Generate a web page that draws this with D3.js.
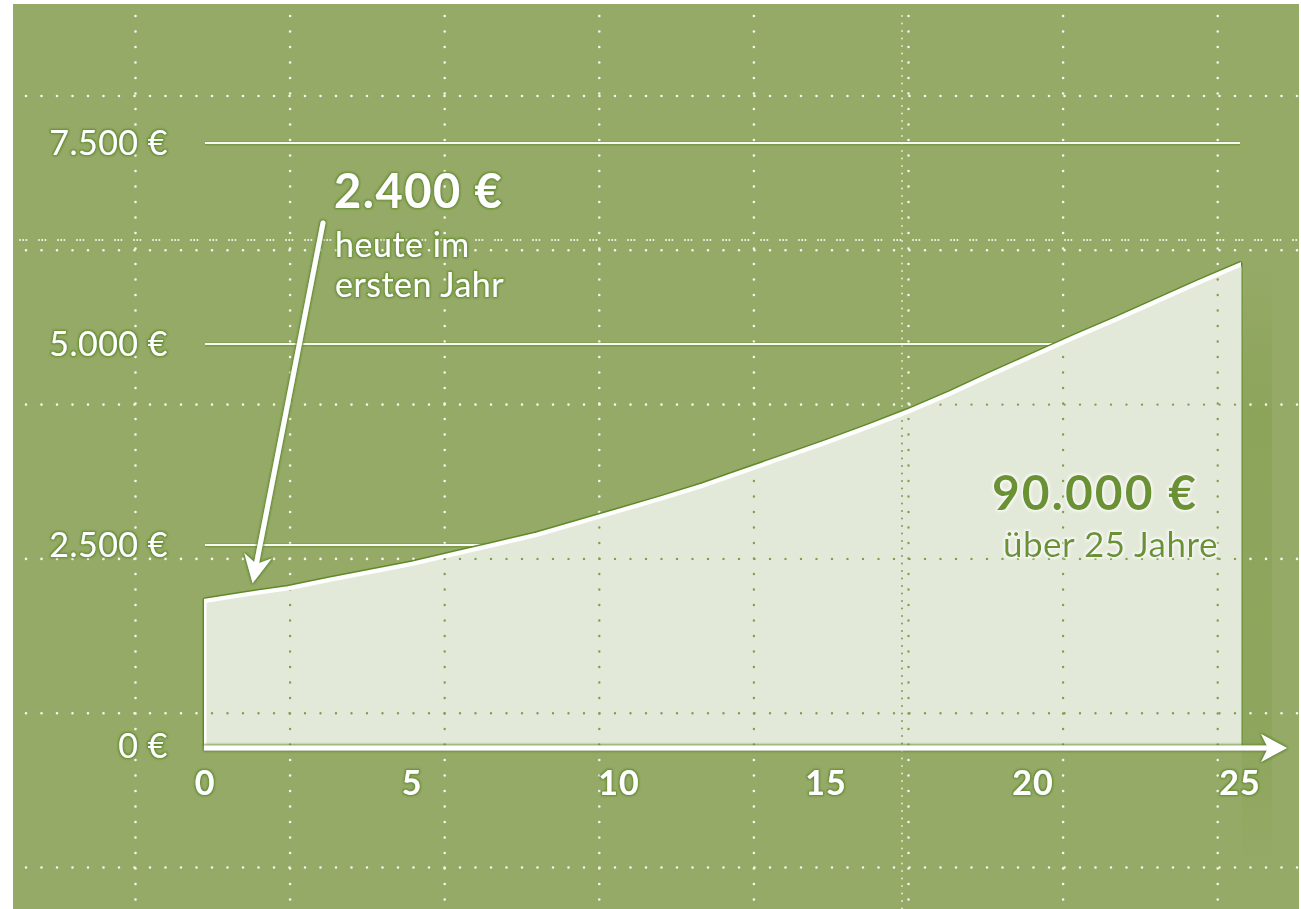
<!DOCTYPE html>
<html lang="de">
<head>
    <meta charset="UTF-8">
    <title>Einnahmen über 25 Jahre</title>
    <script src="https://cdn.jsdelivr.net/npm/d3@7"></script>
    <style>
        html, body {
            margin: 0;
            padding: 0;
            width: 100%;
            height: 100%;
            overflow: hidden;
            background: #fff;
        }
        text {
            font-family: Lato, "Open Sans", sans-serif;
        }
    </style>
</head>
<body>
</body>
<script>
    // Daten
    let years = d3.range(0, 26);
    let values = [1820, 1900, 1975, 2080, 2180, 2280, 2400, 2520, 2640, 2790, 2940,
        3090, 3250, 3430, 3610, 3790, 3980, 4180, 4400, 4640, 4870,
        5100, 5320, 5550, 5780, 6000];
    let yTicks = [0, 2500, 5000, 7500];
    let yTickLabels = ['0 €', '2.500 €', '5.000 €', '7.500 €'];
    let xTicks = [0, 5, 10, 15, 20, 25];

    let width = 1301;
    let height = 909;

    let bg = '#95aa67';
    let dark = '#5f8a28';
    let fillColor = '#e3e9d8';
    let labelGreen = '#6b9232';

    let x = d3.scaleLinear().domain([0, 25]).range([205, 1240]);
    let y = d3.scaleLinear().domain([0, 7500]).range([746, 143]);

    let svg = d3.select('body').append('svg')
        .attr('width', width)
        .attr('height', height);

    let defs = svg.append('defs');

    // Schein um Texte
    function glow(id, color, dev) {
        let f = defs.append('filter').attr('id', id)
            .attr('filterUnits', 'userSpaceOnUse')
            .attr('x', 0).attr('y', 0).attr('width', width).attr('height', height);
        f.append('feMorphology').attr('in', 'SourceAlpha').attr('operator', 'dilate').attr('radius', 1).attr('result', 'd');
        f.append('feGaussianBlur').attr('in', 'd').attr('stdDeviation', dev).attr('result', 'b');
        f.append('feFlood').attr('flood-color', color).attr('result', 'c');
        f.append('feComposite').attr('in', 'c').attr('in2', 'b').attr('operator', 'in').attr('result', 'g');
        let m = f.append('feMerge');
        m.append('feMergeNode').attr('in', 'g');
        m.append('feMergeNode').attr('in', 'SourceGraphic');
    }
    glow('glowDark', dark, 1.3);
    glow('glowLight', '#ffffff', 1.6);

    // Hintergrund
    svg.append('rect')
        .attr('x', 13).attr('y', 4)
        .attr('width', 1286).attr('height', height - 4)
        .attr('fill', bg);

    let stripGrad = defs.append('linearGradient').attr('id', 'strip')
        .attr('x1', 0).attr('x2', 0).attr('y1', 0).attr('y2', 1);
    stripGrad.append('stop').attr('offset', '0%').attr('stop-color', '#86a052').attr('stop-opacity', 0);
    stripGrad.append('stop').attr('offset', '25%').attr('stop-color', '#86a052').attr('stop-opacity', 0.6);
    stripGrad.append('stop').attr('offset', '75%').attr('stop-color', '#86a052').attr('stop-opacity', 0.5);
    stripGrad.append('stop').attr('offset', '100%').attr('stop-color', '#86a052').attr('stop-opacity', 0);
    svg.append('rect')
        .attr('x', 1242).attr('y', 260)
        .attr('width', 30).attr('height', 620)
        .attr('fill', 'url(#strip)');

    // gepunktetes Raster
    let grid = svg.append('g').attr('stroke', '#f4f7ec').attr('stroke-linecap', 'round');
    let gx = d3.range(8).map(i => 135.5 + i * 154.6);
    let gy = d3.range(6).map(i => 96 + i * 154.3);

    grid.selectAll('line.v').data(gx).enter().append('line')
        .attr('x1', d => d).attr('x2', d => d)
        .attr('y1', 16).attr('y2', height)
        .attr('stroke-width', 2.6)
        .attr('stroke-dasharray', '0,15.5');
    grid.append('line')
        .attr('x1', 902).attr('x2', 902).attr('y1', 16).attr('y2', height)
        .attr('stroke-width', 2).attr('stroke-dasharray', '0,7.5').attr('opacity', 0.8);

    grid.selectAll('line.h').data(gy).enter().append('line')
        .attr('x1', 26).attr('x2', 1299)
        .attr('y1', d => d).attr('y2', d => d)
        .attr('stroke-width', 2.6)
        .attr('stroke-dasharray', '0,15.5');
    grid.append('line')
        .attr('x1', 20).attr('x2', 1299).attr('y1', 240).attr('y2', 240)
        .attr('stroke-width', 2)
        .attr('stroke-dasharray', '0,3.2,0,3.2,0,12.6');

    // durchgezogene Hilfslinien
    let hl = svg.append('g');
    hl.selectAll('line.s').data(yTicks.slice(1)).enter().append('line')
        .attr('x1', x(0)).attr('x2', x(25))
        .attr('y1', d => y(d) + 0.5).attr('y2', d => y(d) + 0.5)
        .attr('stroke', dark)
        .attr('stroke-opacity', 0.5)
        .attr('stroke-width', 4);
    hl.selectAll('line.w').data(yTicks.slice(1)).enter().append('line')
        .attr('x1', x(0)).attr('x2', x(25))
        .attr('y1', d => y(d)).attr('y2', d => y(d))
        .attr('stroke', '#f7f9f1')
        .attr('stroke-width', 2);

    // Fläche
    let area = d3.area()
        .x((d, i) => x(years[i]))
        .y0(y(0))
        .y1(d => y(d));

    // Kanten: dunkler Schatten außen, weiße Kante innen
    let edge = [[x(0), y(0)], [x(0), y(values[0])]]
        .concat(values.map((v, i) => [x(years[i]), y(v)]))
        .concat([[x(25), y(0)]]);
    svg.append('path')
        .attr('d', d3.line()(edge))
        .attr('fill', 'none')
        .attr('stroke', dark)
        .attr('stroke-width', 5)
        .attr('stroke-linejoin', 'round');
    svg.append('path')
        .datum(values)
        .attr('d', area)
        .attr('fill', '#ffffff')
        .attr('stroke', '#ffffff')
        .attr('stroke-width', 2);
    svg.append('path')
        .datum(values)
        .attr('d', area)
        .attr('fill', fillColor)
        .attr('transform', 'translate(1.5,3)');

    // Raster auf der Fläche (grüne Punkte)
    let clip = defs.append('clipPath').attr('id', 'areaClip');
    clip.append('path').datum(values).attr('d', area).attr('transform', 'translate(1.5,3)');
    let gridIn = svg.append('g').attr('clip-path', 'url(#areaClip)')
        .attr('stroke', '#7f9f4e').attr('stroke-linecap', 'round');
    gridIn.selectAll('line.v').data(gx).enter().append('line')
        .attr('x1', d => d).attr('x2', d => d)
        .attr('y1', 16).attr('y2', height)
        .attr('stroke-width', 2.4)
        .attr('stroke-dasharray', '0,15.5');
    gridIn.append('line')
        .attr('x1', 902).attr('x2', 902).attr('y1', 16).attr('y2', height)
        .attr('stroke-width', 2).attr('stroke-dasharray', '0,7.5');
    gridIn.selectAll('line.h').data(gy).enter().append('line')
        .attr('x1', 26).attr('x2', 1299)
        .attr('y1', d => d).attr('y2', d => d)
        .attr('stroke-width', 2.4)
        .attr('stroke-dasharray', '0,15.5');

    // x-Achse mit Pfeil
    let axisG = svg.append('g').attr('filter', 'url(#glowDark)');
    axisG.append('line')
        .attr('x1', x(0) - 1).attr('x2', 1272)
        .attr('y1', 748).attr('y2', 748)
        .attr('stroke', '#ffffff')
        .attr('stroke-width', 5);
    axisG.append('path')
        .attr('d', 'M1287,748 L1261,734 L1268,748 L1261,762 Z')
        .attr('fill', '#ffffff');

    // Achsenbeschriftungen
    svg.append('g').selectAll('text').data(xTicks).enter().append('text')
        .attr('x', d => x(d))
        .attr('y', 795)
        .attr('text-anchor', 'middle')
        .attr('font-size', 34)
        .attr('font-weight', 700)
        .attr('letter-spacing', 1)
        .attr('fill', '#ffffff')
        .attr('filter', 'url(#glowDark)')
        .text(d => d);

    svg.append('g').selectAll('text').data(yTicks).enter().append('text')
        .attr('x', 168)
        .attr('y', d => y(d) + 12)
        .attr('text-anchor', 'end')
        .attr('font-size', 34)
        .attr('letter-spacing', 0.5)
        .attr('fill', '#ffffff')
        .attr('filter', 'url(#glowDark)')
        .text((d, i) => yTickLabels[i]);

    // Pfeil zum Startwert
    let arrowG = svg.append('g').attr('filter', 'url(#glowDark)');
    let ax0 = 323, ay0 = 223;
    let ax1 = x(1.15), ay1 = y(values[1]) - 10;
    let ang = Math.atan2(ay1 - ay0, ax1 - ax0);
    let hLen = 28, hW = 14;
    arrowG.append('line')
        .attr('x1', ax0).attr('y1', ay0)
        .attr('x2', ax1 - Math.cos(ang) * 14).attr('y2', ay1 - Math.sin(ang) * 14)
        .attr('stroke', '#ffffff')
        .attr('stroke-width', 5)
        .attr('stroke-linecap', 'round');
    let bx = ax1 - Math.cos(ang) * hLen, by = ay1 - Math.sin(ang) * hLen;
    let nx = -Math.sin(ang), ny = Math.cos(ang);
    let bm = [ax1 - Math.cos(ang) * hLen * 0.7, ay1 - Math.sin(ang) * hLen * 0.7];
    arrowG.append('path')
        .attr('d', `M${ax1},${ay1} L${bx + nx * hW},${by + ny * hW} L${bm[0]},${bm[1]} L${bx - nx * hW},${by - ny * hW} Z`)
        .attr('fill', '#ffffff');

    // Anmerkungen
    let note = svg.append('g').attr('fill', '#ffffff').attr('filter', 'url(#glowDark)');
    note.append('text')
        .attr('x', 334).attr('y', 208)
        .attr('font-size', 47)
        .attr('font-weight', 700)
        .attr('letter-spacing', 1.5)
        .text('2.400 €');
    note.append('text')
        .attr('x', 335).attr('y', 257)
        .attr('font-size', 34)
        .attr('letter-spacing', 0.5)
        .text('heute im');
    note.append('text')
        .attr('x', 335).attr('y', 297)
        .attr('font-size', 34)
        .attr('letter-spacing', 0.5)
        .text('ersten Jahr');

    let total = svg.append('g').attr('fill', labelGreen).attr('filter', 'url(#glowLight)');
    total.append('text')
        .attr('x', 1198).attr('y', 510)
        .attr('text-anchor', 'end')
        .attr('font-size', 48)
        .attr('font-weight', 700)
        .attr('letter-spacing', 2)
        .text('90.000 €');
    total.append('text')
        .attr('x', 1218).attr('y', 557)
        .attr('text-anchor', 'end')
        .attr('font-size', 35)
        .attr('letter-spacing', 0.5)
        .text('über 25 Jahre');
</script>
</html>
